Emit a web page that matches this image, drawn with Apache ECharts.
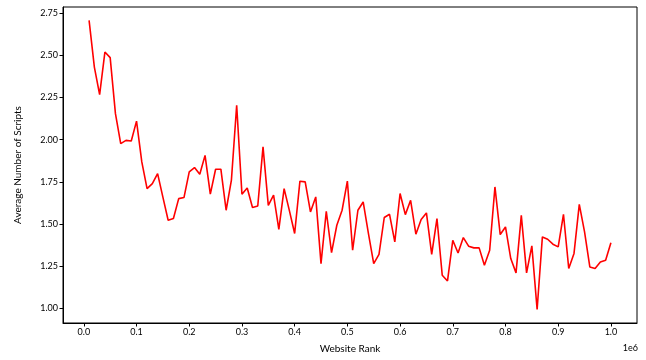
<!DOCTYPE html>
<html>
<head>
<meta charset="utf-8">
<script src="https://cdn.jsdelivr.net/npm/echarts@6/dist/echarts.min.js"></script>
<style>
  html, body { margin: 0; padding: 0; background: #fff; }
  #chart { width: 646px; height: 360px; }
</style>
</head>
<body>
<div id="chart"></div>
<script>
// website rank (x) and average number of scripts (y)
const ranks = [
  10000, 20000, 30000, 40000, 50000, 60000, 70000, 80000, 90000, 100000,
  110000, 120000, 130000, 140000, 150000, 160000, 170000, 180000, 190000, 200000,
  210000, 220000, 230000, 240000, 250000, 260000, 270000, 280000, 290000, 300000,
  310000, 320000, 330000, 340000, 350000, 360000, 370000, 380000, 390000, 400000,
  410000, 420000, 430000, 440000, 450000, 460000, 470000, 480000, 490000, 500000,
  510000, 520000, 530000, 540000, 550000, 560000, 570000, 580000, 590000, 600000,
  610000, 620000, 630000, 640000, 650000, 660000, 670000, 680000, 690000, 700000,
  710000, 720000, 730000, 740000, 750000, 760000, 770000, 780000, 790000, 800000,
  810000, 820000, 830000, 840000, 850000, 860000, 870000, 880000, 890000, 900000,
  910000, 920000, 930000, 940000, 950000, 960000, 970000, 980000, 990000, 1000000
];
const avgScripts = [
  2.707, 2.43, 2.267, 2.519, 2.486, 2.154, 1.977, 1.996, 1.992, 2.11,
  1.868, 1.71, 1.74, 1.799, 1.66, 1.523, 1.533, 1.651, 1.657, 1.809,
  1.835, 1.795, 1.907, 1.677, 1.825, 1.825, 1.582, 1.76, 2.204, 1.677,
  1.714, 1.598, 1.607, 1.957, 1.611, 1.671, 1.469, 1.71, 1.58, 1.444,
  1.754, 1.75, 1.572, 1.661, 1.266, 1.576, 1.331, 1.493, 1.582, 1.755,
  1.345, 1.582, 1.631, 1.444, 1.266, 1.321, 1.539, 1.558, 1.394, 1.681,
  1.556, 1.641, 1.44, 1.527, 1.566, 1.321, 1.533, 1.197, 1.163, 1.404,
  1.329, 1.42, 1.369, 1.359, 1.359, 1.256, 1.345, 1.72, 1.438, 1.483,
  1.296, 1.211, 1.552, 1.211, 1.371, 0.994, 1.424, 1.41, 1.381, 1.365,
  1.558, 1.237, 1.326, 1.617, 1.454, 1.246, 1.237, 1.276, 1.286, 1.389
];
const xTicks = [0, 100000, 200000, 300000, 400000, 500000, 600000, 700000, 800000, 900000, 1000000];
const yTicks = [1.0, 1.25, 1.5, 1.75, 2.0, 2.25, 2.5, 2.75];

const font = 'Lato';
const chart = echarts.init(document.getElementById('chart'));

chart.setOption({
  animation: false,
  grid: {
    left: 63, right: 9, top: 7, bottom: 37,
    show: true, borderColor: '#000', borderWidth: 1
  },
  xAxis: {
    type: 'value',
    min: -39500,
    max: 1049500,
    name: 'Website Rank',
    nameLocation: 'middle',
    nameGap: 21,
    nameTextStyle: { fontFamily: font, fontSize: 10, color: '#000' },
    splitLine: { show: false },
    axisLine: { show: true, onZero: false, lineStyle: { color: '#000', width: 1 } },
    axisTick: { show: true, inside: false, length: 3.5, customValues: xTicks, lineStyle: { color: '#000' } },
    axisLabel: {
      customValues: xTicks, margin: 5,
      fontFamily: font, fontSize: 9, color: '#000',
      formatter: v => (v / 1e6).toFixed(1)
    }
  },
  yAxis: {
    type: 'value',
    min: 0.914,
    max: 2.786,
    name: 'Average Number of Scripts',
    nameLocation: 'middle',
    nameGap: 40,
    nameRotate: 90,
    nameTextStyle: { fontFamily: font, fontSize: 10, color: '#000' },
    splitLine: { show: false },
    axisLine: { show: true, onZero: false, lineStyle: { color: '#000', width: 1 } },
    axisTick: { show: true, inside: false, length: 3.5, customValues: yTicks, lineStyle: { color: '#000' } },
    axisLabel: {
      customValues: yTicks, margin: 5,
      fontFamily: font, fontSize: 9, color: '#000',
      formatter: v => v.toFixed(2)
    }
  },
  graphic: [{
    type: 'text', right: 8, top: 344,
    style: { text: '1e6', fontFamily: font, fontSize: 9, fill: '#000' }
  }],
  series: [{
    type: 'line',
    data: ranks.map((r, i) => [r, avgScripts[i]]),
    showSymbol: false,
    lineStyle: { color: '#ff0000', width: 1.6 },
    itemStyle: { color: '#ff0000' }
  }]
});
</script>
</body>
</html>
